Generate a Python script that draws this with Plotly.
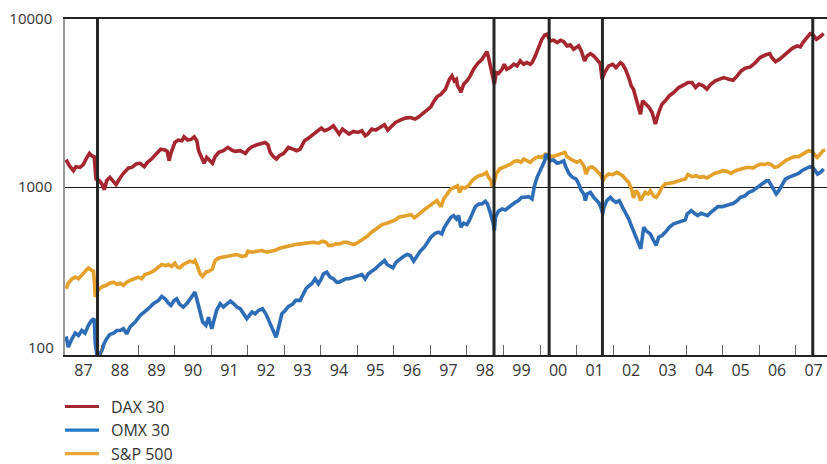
import plotly.graph_objects as go

# ---- index levels (decimal year, index points) ----
dax_years = [1987.02, 1987.11, 1987.22, 1987.29, 1987.40, 1987.49, 1987.58, 1987.66, 1987.72, 1987.79,
             1987.82, 1987.84, 1987.93, 1988.00, 1988.07, 1988.13, 1988.22, 1988.32, 1988.39, 1988.48,
             1988.59, 1988.73, 1988.82, 1988.94, 1989.05, 1989.16, 1989.25, 1989.36, 1989.48, 1989.61,
             1989.73, 1989.79, 1989.84, 1989.89, 1990.00, 1990.09, 1990.19, 1990.25, 1990.35, 1990.44,
             1990.53, 1990.60, 1990.65, 1990.73, 1990.80, 1990.87, 1990.96, 1991.03, 1991.10, 1991.20,
             1991.33, 1991.45, 1991.56, 1991.65, 1991.79, 1991.93, 1992.02, 1992.11, 1992.25, 1992.38,
             1992.47, 1992.55, 1992.61, 1992.70, 1992.78, 1992.86, 1992.98, 1993.11, 1993.22, 1993.34,
             1993.43, 1993.55, 1993.66, 1993.77, 1993.89, 1994.01, 1994.10, 1994.21, 1994.34, 1994.41,
             1994.50, 1994.59, 1994.68, 1994.77, 1994.89, 1995.01, 1995.12, 1995.21, 1995.28, 1995.39,
             1995.50, 1995.63, 1995.74, 1995.83, 1995.92, 1996.04, 1996.17, 1996.31, 1996.45, 1996.58,
             1996.68, 1996.79, 1996.90, 1997.01, 1997.09, 1997.18, 1997.29, 1997.41, 1997.52, 1997.59,
             1997.65, 1997.71, 1997.74, 1997.80, 1997.83, 1997.91, 1998.00, 1998.09, 1998.18, 1998.29,
             1998.41, 1998.50, 1998.55, 1998.59, 1998.66, 1998.71, 1998.75, 1998.80, 1998.86, 1998.96,
             1999.02, 1999.09, 1999.18, 1999.28, 1999.37, 1999.46, 1999.55, 1999.64, 1999.73, 1999.78,
             1999.87, 1999.96, 2000.05, 2000.13, 2000.19, 2000.28, 2000.37, 2000.47, 2000.56, 2000.65,
             2000.74, 2000.83, 2000.92, 2000.99, 2001.06, 2001.13, 2001.22, 2001.29, 2001.38, 2001.47,
             2001.56, 2001.65, 2001.70, 2001.77, 2001.88, 2001.99, 2002.08, 2002.20, 2002.26, 2002.34,
             2002.43, 2002.50, 2002.56, 2002.65, 2002.75, 2002.81, 2002.90, 2002.99, 2003.07, 2003.16,
             2003.25, 2003.34, 2003.43, 2003.54, 2003.66, 2003.80, 2003.98, 2004.05, 2004.16, 2004.26,
             2004.35, 2004.47, 2004.57, 2004.68, 2004.80, 2004.92, 2005.03, 2005.17, 2005.29, 2005.40,
             2005.51, 2005.62, 2005.76, 2005.90, 2006.03, 2006.17, 2006.29, 2006.35, 2006.45, 2006.56,
             2006.67, 2006.78, 2006.90, 2007.04, 2007.13, 2007.20, 2007.31, 2007.40, 2007.48, 2007.57,
             2007.66, 2007.77]
dax_values = [1454, 1339, 1250, 1321, 1308, 1358, 1487, 1585, 1535, 1514,
              1250, 1115, 1090, 1042, 964, 1090, 1142, 1065, 1033, 1115,
              1206, 1297, 1308, 1370, 1383, 1321, 1402, 1467, 1571, 1679,
              1659, 1629, 1434, 1585, 1842, 1902, 1885, 1990, 1902, 1919,
              1990, 1885, 1644, 1501, 1383, 1501, 1434, 1383, 1514, 1607,
              1644, 1720, 1659, 1629, 1644, 1585, 1679, 1736, 1784, 1817,
              1842, 1784, 1607, 1514, 1467, 1535, 1585, 1720, 1679, 1644,
              1679, 1885, 1955, 2046, 2161, 2242, 2161, 2211, 2314, 2211,
              2065, 2211, 2142, 2065, 2142, 2113, 2161, 2018, 2065, 2211,
              2180, 2262, 2346, 2181, 2283, 2422, 2501, 2570, 2593, 2535,
              2617, 2739, 2841, 3001, 3228, 3441, 3569, 3821, 4381, 4586,
              4282, 4381, 4000, 3821, 3651, 4092, 4282, 4586, 5024, 5428,
              5760, 6224, 6397, 5893, 5139, 4483, 4092, 4800, 4735, 5024,
              5378, 5024, 5139, 5378, 5258, 5631, 5378, 5503, 5378, 5503,
              6029, 6756, 7571, 8035, 8109, 7401, 7470, 7234, 7470, 7335,
              6912, 7007, 6603, 6756, 6912, 6455, 5631, 6029, 6224, 6029,
              5760, 5428, 4381, 4800, 5258, 5378, 5139, 5503, 5378, 5024,
              4483, 3996, 3821, 3257, 2714, 3257, 3112, 2974, 2777, 2368,
              2777, 3112, 3257, 3488, 3651, 3909, 4092, 4186, 4186, 3909,
              4092, 4000, 3821, 4092, 4282, 4381, 4483, 4381, 4322, 4586,
              4911, 5093, 5187, 5503, 5893, 6112, 6224, 5893, 5578, 5760,
              6029, 6397, 6664, 6912, 6817, 7234, 7747, 8183, 8035, 7571,
              7818, 8183]

omx_years = [1987.02, 1987.08, 1987.18, 1987.27, 1987.36, 1987.45, 1987.54, 1987.63, 1987.72, 1987.79,
             1987.82, 1987.86, 1987.93, 1988.00, 1988.06, 1988.13, 1988.22, 1988.32, 1988.41, 1988.50,
             1988.59, 1988.68, 1988.77, 1988.91, 1989.05, 1989.18, 1989.27, 1989.41, 1989.55, 1989.64,
             1989.73, 1989.82, 1989.89, 1989.98, 1990.05, 1990.12, 1990.23, 1990.34, 1990.46, 1990.55,
             1990.61, 1990.69, 1990.76, 1990.85, 1990.92, 1991.01, 1991.07, 1991.14, 1991.24, 1991.33,
             1991.43, 1991.52, 1991.61, 1991.70, 1991.79, 1991.88, 1991.97, 1992.04, 1992.11, 1992.20,
             1992.29, 1992.40, 1992.49, 1992.57, 1992.64, 1992.70, 1992.77, 1992.82, 1992.89, 1992.93,
             1993.02, 1993.11, 1993.22, 1993.31, 1993.43, 1993.49, 1993.59, 1993.68, 1993.75, 1993.84,
             1993.93, 1994.01, 1994.07, 1994.16, 1994.25, 1994.34, 1994.43, 1994.50, 1994.59, 1994.68,
             1994.77, 1994.89, 1995.01, 1995.12, 1995.21, 1995.30, 1995.39, 1995.49, 1995.58, 1995.67,
             1995.74, 1995.81, 1995.90, 1995.97, 1996.06, 1996.17, 1996.26, 1996.36, 1996.45, 1996.54,
             1996.63, 1996.72, 1996.83, 1996.92, 1997.01, 1997.13, 1997.22, 1997.31, 1997.38, 1997.50,
             1997.56, 1997.63, 1997.71, 1997.77, 1997.83, 1997.91, 1998.00, 1998.07, 1998.14, 1998.23,
             1998.32, 1998.41, 1998.50, 1998.56, 1998.62, 1998.66, 1998.71, 1998.75, 1998.78, 1998.86,
             1998.96, 1999.05, 1999.14, 1999.23, 1999.32, 1999.41, 1999.50, 1999.59, 1999.69, 1999.78,
             1999.85, 1999.92, 1999.98, 2000.05, 2000.13, 2000.16, 2000.22, 2000.28, 2000.37, 2000.47,
             2000.56, 2000.65, 2000.71, 2000.80, 2000.89, 2000.99, 2001.06, 2001.13, 2001.20, 2001.24,
             2001.29, 2001.38, 2001.47, 2001.56, 2001.62, 2001.68, 2001.72, 2001.75, 2001.83, 2001.93,
             2001.99, 2002.08, 2002.17, 2002.26, 2002.34, 2002.43, 2002.50, 2002.56, 2002.63, 2002.70,
             2002.76, 2002.84, 2002.90, 2003.02, 2003.11, 2003.18, 2003.25, 2003.34, 2003.43, 2003.54,
             2003.66, 2003.80, 2003.98, 2004.03, 2004.14, 2004.23, 2004.32, 2004.41, 2004.50, 2004.59,
             2004.68, 2004.78, 2004.87, 2004.99, 2005.10, 2005.21, 2005.30, 2005.40, 2005.49, 2005.60,
             2005.72, 2005.83, 2005.93, 2006.03, 2006.13, 2006.20, 2006.26, 2006.33, 2006.40, 2006.47,
             2006.54, 2006.63, 2006.72, 2006.81, 2006.90, 2006.99, 2007.08, 2007.17, 2007.24, 2007.31,
             2007.40, 2007.48, 2007.54, 2007.60, 2007.68, 2007.77]
omx_values = [128.9, 111.5, 125.0, 134.9, 130.6, 139.9, 134.9, 150.1, 160.7, 164.4,
              116.7, 100.9, 100.0, 106.5, 116.7, 125.0, 132.6, 134.9, 139.9, 139.9,
              143.4, 133.6, 146.7, 157.1, 172.0, 180.1, 188.5, 201.8, 211.3, 223.1,
              216.1, 203.7, 197.2, 211.3, 216.1, 201.8, 192.8, 203.7, 223.1, 236.8,
              211.3, 180.1, 157.1, 150.1, 167.9, 143.4, 160.7, 184.2, 201.8, 192.8,
              201.8, 209.4, 201.8, 192.8, 188.5, 176.0, 164.4, 172.0, 180.1, 176.0,
              184.2, 188.5, 176.0, 160.7, 146.7, 136.7, 127.7, 139.9, 160.7, 176.0,
              184.2, 194.6, 200.0, 211.3, 211.3, 226.2, 247.8, 259.3, 265.3, 284.1,
              265.3, 284.1, 304.2, 311.2, 290.7, 284.1, 271.4, 271.4, 277.7, 284.1,
              284.1, 290.7, 297.4, 301.4, 284.1, 304.2, 315.5, 325.7, 341.0, 352.0,
              365.1, 345.6, 336.3, 330.2, 356.9, 373.5, 385.6, 396.3, 390.9, 361.8,
              390.9, 414.9, 438.1, 469.2, 502.4, 530.6, 537.8, 525.8, 576.0, 631.0,
              660.4, 675.6, 645.5, 675.6, 576.0, 608.4, 597.4, 636.8, 691.2, 764.1,
              792.5, 792.5, 822.1, 792.5, 723.5, 675.6, 616.8, 550.0, 660.4, 716.9,
              740.1, 730.2, 757.1, 774.7, 810.9, 829.5, 868.1, 868.1, 876.2, 848.6,
              1018, 1142, 1222, 1339, 1434, 1571, 1514, 1434, 1447, 1383,
              1402, 1434, 1309, 1195, 1142, 1115, 1042, 951, 909, 829.5,
              909, 930, 868.1, 829.5, 800, 740.1, 691.2, 757.1, 829.5, 868.1,
              837.2, 810.9, 829.5, 757.1, 707, 645.5, 589.3, 550.3, 502.4, 458.6,
              428.2, 576.0, 550.3, 525.8, 480.0, 448.3, 502.4, 513.9, 537.8, 576.0,
              602.9, 616.8, 636.8, 691.2, 723.5, 697.5, 675.6, 697.5, 684.9, 675.6,
              707, 740.1, 764.1, 764.1, 774.7, 792.5, 800, 829.5, 868.1, 883,
              929.7, 951, 986.4, 1018, 1051, 1090, 1090, 1018, 951, 909,
              951, 1042, 1115, 1142, 1167, 1195, 1206, 1250, 1280, 1297,
              1321, 1297, 1250, 1195, 1222, 1280]

spx_years = [1987.02, 1987.08, 1987.18, 1987.27, 1987.36, 1987.45, 1987.54, 1987.63, 1987.72, 1987.77,
             1987.80, 1987.82, 1987.86, 1987.93, 1988.02, 1988.11, 1988.21, 1988.32, 1988.41, 1988.50,
             1988.59, 1988.68, 1988.77, 1988.88, 1989.00, 1989.09, 1989.18, 1989.30, 1989.41, 1989.55,
             1989.64, 1989.76, 1989.82, 1989.91, 1990.00, 1990.07, 1990.14, 1990.23, 1990.32, 1990.41,
             1990.51, 1990.55, 1990.61, 1990.69, 1990.76, 1990.85, 1990.94, 1991.03, 1991.10, 1991.19,
             1991.29, 1991.43, 1991.56, 1991.70, 1991.84, 1991.95, 1992.00, 1992.11, 1992.25, 1992.38,
             1992.52, 1992.66, 1992.77, 1992.89, 1993.02, 1993.16, 1993.30, 1993.43, 1993.55, 1993.66,
             1993.80, 1993.93, 1994.04, 1994.14, 1994.21, 1994.30, 1994.41, 1994.50, 1994.62, 1994.71,
             1994.80, 1994.89, 1994.98, 1995.12, 1995.26, 1995.39, 1995.53, 1995.67, 1995.81, 1995.92,
             1996.04, 1996.13, 1996.25, 1996.36, 1996.47, 1996.56, 1996.63, 1996.72, 1996.86, 1996.98,
             1997.09, 1997.18, 1997.25, 1997.29, 1997.36, 1997.47, 1997.56, 1997.65, 1997.74, 1997.80,
             1997.86, 1997.95, 1998.04, 1998.14, 1998.25, 1998.34, 1998.44, 1998.53, 1998.59, 1998.66,
             1998.69, 1998.73, 1998.80, 1998.89, 1998.98, 1999.09, 1999.20, 1999.29, 1999.39, 1999.48,
             1999.55, 1999.64, 1999.73, 1999.78, 1999.87, 1999.96, 2000.05, 2000.15, 2000.24, 2000.33,
             2000.42, 2000.51, 2000.60, 2000.68, 2000.74, 2000.83, 2000.92, 2001.01, 2001.10, 2001.20,
             2001.26, 2001.33, 2001.42, 2001.51, 2001.61, 2001.68, 2001.72, 2001.79, 2001.88, 2001.99,
             2002.11, 2002.20, 2002.26, 2002.34, 2002.43, 2002.52, 2002.56, 2002.63, 2002.70, 2002.75,
             2002.81, 2002.88, 2002.96, 2003.02, 2003.11, 2003.18, 2003.25, 2003.34, 2003.43, 2003.54,
             2003.66, 2003.80, 2003.98, 2004.05, 2004.16, 2004.28, 2004.37, 2004.47, 2004.57, 2004.67,
             2004.78, 2004.89, 2005.01, 2005.12, 2005.23, 2005.35, 2005.49, 2005.60, 2005.72, 2005.83,
             2005.94, 2006.05, 2006.14, 2006.24, 2006.33, 2006.42, 2006.51, 2006.63, 2006.75, 2006.86,
             2006.97, 2007.08, 2007.18, 2007.27, 2007.36, 2007.45, 2007.51, 2007.59, 2007.66, 2007.75,
             2007.81]
spx_values = [247.8, 267.4, 284.1, 290.7, 284.1, 297.4, 311.2, 330.2, 318.4, 315.5,
              265.3, 221.1, 236.8, 247.8, 255.8, 259.3, 267.4, 271.4, 262.9, 267.4,
              259.3, 271.4, 277.7, 284.1, 290.7, 284.1, 301.4, 307.0, 315.5, 333.3,
              345.6, 341.0, 345.6, 336.3, 352.0, 333.3, 330.2, 345.6, 352.0, 361.8,
              356.9, 365.1, 341.0, 304.2, 293.2, 311.2, 315.5, 325.7, 365.1, 376.9,
              382.1, 385.6, 390.9, 396.3, 385.6, 390.9, 414.9, 409.2, 414.9, 418.6,
              409.2, 414.9, 421.9, 434.2, 442.1, 448.3, 454.4, 458.6, 462.8, 469.2,
              469.2, 462.8, 475.6, 469.2, 448.3, 448.3, 458.6, 458.6, 469.2, 469.2,
              462.8, 454.4, 462.8, 484.4, 506.9, 537.8, 566.0, 597.4, 608.4, 625.3,
              636.8, 660.4, 666.4, 675.6, 684.9, 654.5, 675.6, 697.5, 740.1, 774.7,
              800.0, 829.5, 785.3, 764.1, 848.6, 909.0, 973.0, 995.5, 1018, 929.7,
              995.5, 986.4, 1018, 1090, 1142, 1167, 1184, 1222, 1142, 1090,
              1005, 1042, 1195, 1280, 1309, 1339, 1370, 1421, 1434, 1402,
              1467, 1434, 1402, 1434, 1487, 1514, 1501, 1571, 1535, 1514,
              1535, 1556, 1585, 1607, 1514, 1467, 1434, 1402, 1434, 1339,
              1195, 1297, 1321, 1280, 1206, 1167, 1090, 1152, 1195, 1184,
              1222, 1195, 1167, 1115, 1065, 951, 860.4, 951, 909, 829.5,
              883, 929.7, 909, 951, 883, 868.1, 909, 995.5, 1042, 1051,
              1065, 1090, 1115, 1184, 1152, 1167, 1142, 1152, 1131, 1167,
              1206, 1222, 1250, 1239, 1206, 1250, 1280, 1297, 1309, 1297,
              1339, 1370, 1358, 1383, 1358, 1309, 1321, 1383, 1447, 1487,
              1514, 1514, 1571, 1607, 1644, 1629, 1571, 1501, 1556, 1644,
              1659]

# market shock dates marked by vertical rules
event_dates = [1987.88, 1998.74, 2000.25, 2001.71, 2007.47]

year_ticks = list(range(1987, 2008))
year_labels = [f"{y % 100:02d}" for y in year_ticks]

series = [
    ("DAX 30", dax_years, dax_values, "#a5262e"),
    ("S&P 500", spx_years, spx_values, "#e3a02a"),
    ("OMX 30", omx_years, omx_values, "#2d6db7"),
]
legend_order = ["DAX 30", "OMX 30", "S&P 500"]
legend_colors = {"DAX 30": "#a5262e", "OMX 30": "#1f78c8", "S&P 500": "#e9a73a"}

FONT = "Open Sans"
TEXT = "#333333"

fig = go.Figure()
for name, xs, ys, color in series:
    fig.add_trace(go.Scatter(x=xs, y=ys, mode="lines", name=name,
                             line=dict(color=color, width=3.6),
                             showlegend=False, hoverinfo="skip"))

for d in event_dates:
    fig.add_shape(type="line", xref="x", yref="paper", x0=d, x1=d, y0=0, y1=1,
                  line=dict(color="#262626", width=3), layer="above")

# legend below the plot
plot_h = 464 - 19 - 109
for i, name in enumerate(legend_order):
    ypix = 406.5 + i * 23.6
    yp = (464 - 109 - ypix) / plot_h
    fig.add_shape(type="line", xref="paper", yref="paper",
                  x0=0, x1=34 / 762, y0=yp, y1=yp,
                  line=dict(color=legend_colors[name], width=3.2))
    fig.add_annotation(xref="paper", yref="paper", x=45 / 762, y=yp,
                       text=name, showarrow=False, xanchor="left", yanchor="middle",
                       borderpad=0,
                       font=dict(family=FONT, size=16, color=TEXT))

# lowest y label sits slightly above its gridline
fig.add_annotation(xref="paper", yref="y", x=0, y=2, xshift=-9, yshift=8,
                   text="100", showarrow=False, xanchor="right", yanchor="middle",
                   font=dict(family=FONT, size=15, color=TEXT))

fig.update_layout(
    width=827, height=464,
    margin=dict(l=65, r=0, t=19, b=109),
    paper_bgcolor="white", plot_bgcolor="white",
    showlegend=False,
)
fig.update_xaxes(
    range=[1986.99, 2007.86], tickmode="array", tickvals=year_ticks, ticktext=year_labels,
    ticks="inside", ticklen=10, tickwidth=1, tickcolor="#666666", ticklabelshift=18,
    showline=True, linecolor="#222222", linewidth=1.5, mirror=True,
    showgrid=False, zeroline=False,
    tickfont=dict(family=FONT, size=16, color=TEXT),
)
fig.update_yaxes(
    type="log", range=[2, 4], tickmode="array", tickvals=[1000, 10000], ticktext=["1000", "10000"],
    ticks="", showline=True, linecolor="#9a9a9a", linewidth=1.5, mirror=False,
    showgrid=True, gridcolor="#1a1a1a", gridwidth=1, zeroline=False,
    ticklabelstandoff=8,
    tickfont=dict(family=FONT, size=15, color=TEXT),
)

fig.write_html("out.html")
